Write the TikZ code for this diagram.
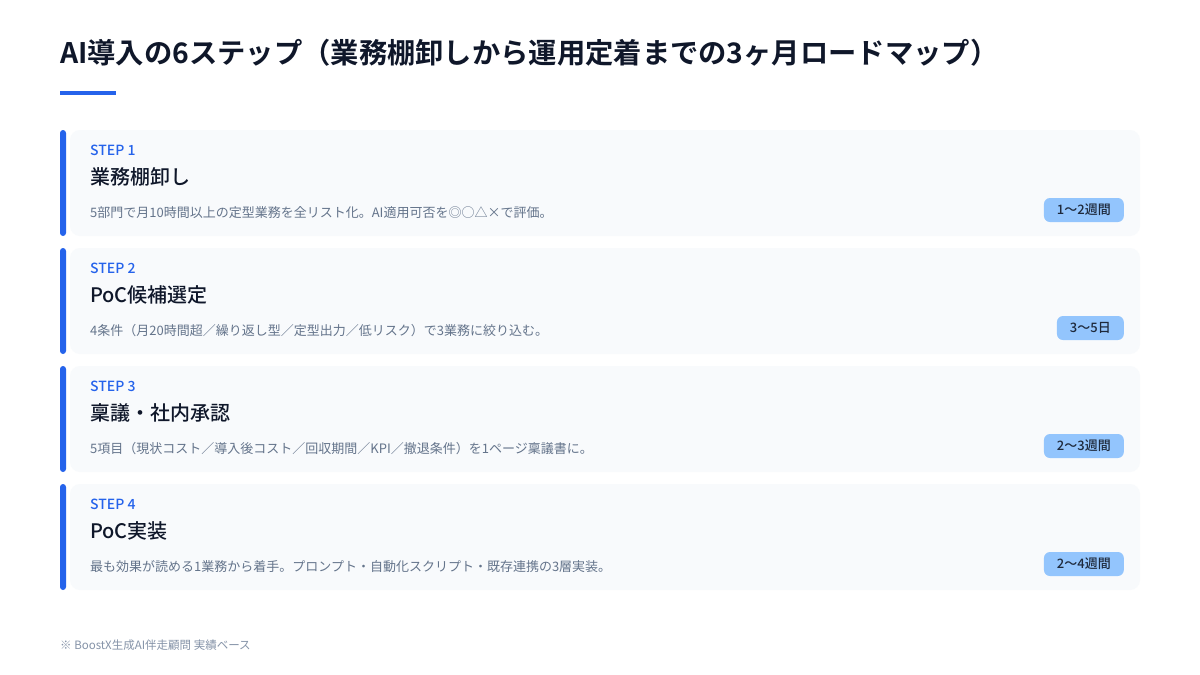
\documentclass[tikz,border=0pt]{standalone}
\usepackage{fontspec}
\setmainfont{Noto Sans CJK JP}
\newfontfamily\jpbold{Noto Sans CJK JP Bold}
\newfontfamily\jpmed{Noto Sans CJK JP Medium}
\definecolor{ink}{HTML}{0F172A}
\definecolor{accent}{HTML}{2563EB}
\definecolor{muted}{HTML}{64748B}
\definecolor{cardbg}{HTML}{F8FAFC}
\definecolor{badgebg}{HTML}{93C5FD}
\definecolor{badgeink}{HTML}{1E293B}
\definecolor{foot}{HTML}{8593A8}
\tikzset{
  cardbox/.style={fill=cardbg, draw=none, rounded corners=10pt},
  sidebar/.style={fill=accent, draw=none, rounded corners=3pt},
  steplabel/.style={anchor=west, inner sep=0pt, text=accent, font=\jpmed\fontsize{14}{16}\selectfont},
  steptitle/.style={anchor=west, inner sep=0pt, text=ink, font=\jpmed\fontsize{20}{24}\selectfont},
  stepdesc/.style={anchor=west, inner sep=0pt, text=muted, font=\fontsize{13}{16}\selectfont},
  badge/.style={anchor=east, fill=badgebg, rounded corners=6pt, text=badgeink, inner xsep=13pt, inner ysep=0pt, minimum height=24pt, font=\jpmed\fontsize{13}{16}\selectfont}
}
\begin{document}
\begin{tikzpicture}[x=1pt,y=-1pt]
\useasboundingbox (0,0) rectangle (1200,675);
\fill[white] (0,0) rectangle (1200,675);
\node[anchor=west, inner sep=0pt, text=ink, font=\jpbold\fontsize{28.3}{32}\selectfont] (title) at (60,53) {AI導入の6ステップ（業務棚卸しから運用定着までの3ヶ月ロードマップ）};
\fill[accent] (60,90.5) rectangle (116,94.5);
\foreach \n/\top/\ttl/\dsc/\bdg in {
 1/130/{業務棚卸し}/{5部門で月10時間以上の定型業務を全リスト化。AI適用可否を◎○△×で評価。}/{1〜2週間},
 2/248/{PoC候補選定}/{4条件（月20時間超／繰り返し型／定型出力／低リスク）で3業務に絞り込む。}/{3〜5日},
 3/366/{稟議・社内承認}/{5項目（現状コスト／導入後コスト／回収期間／KPI／撤退条件）を1ページ稟議書に。}/{2〜3週間},
 4/484/{PoC実装}/{最も効果が読める1業務から着手。プロンプト・自動化スクリプト・既存連携の3層実装。}/{2〜4週間}}{
  \fill[cardbox] (70,\top) rectangle (1140,\top+106);
  \fill[sidebar] (60,\top) rectangle (66,\top+106);
  \node[steplabel] (s\n) at (90,\top+20) {STEP \n};
  \node[steptitle] (t\n) at (90,\top+47) {\ttl};
  \node[stepdesc] (d\n) at (90,\top+83) {\dsc};
  \node[badge] (b\n) at (1124,\top+80) {\bdg};
}
\node[anchor=west, inner sep=0pt, text=foot, font=\fontsize{11.5}{14}\selectfont] (note) at (60,645) {※ BoostX生成AI伴走顧問 実績ベース};
\end{tikzpicture}
\end{document}
